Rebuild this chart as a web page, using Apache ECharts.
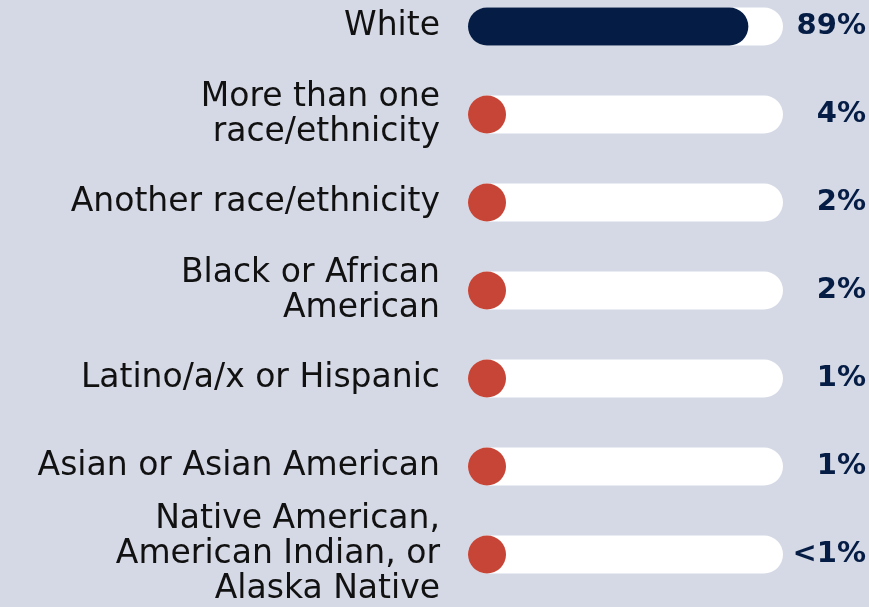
<!DOCTYPE html>
<html>
<head>
<meta charset="utf-8">
<style>
  html, body { margin: 0; padding: 0; background: #d5d9e6; }
  #chart { width: 869px; height: 607px; }
</style>
<script src="https://cdn.jsdelivr.net/npm/echarts@6/dist/echarts.min.js"></script>
</head>
<body>
<div id="chart"></div>
<script>
// 类别、数值、右侧百分比标签
var categories = [
  'White',
  'More than one\nrace/ethnicity',
  'Another race/ethnicity',
  'Black or African\nAmerican',
  'Latino/a/x or Hispanic',
  'Asian or Asian American',
  'Native American,\nAmerican Indian, or\nAlaska Native'
];
var values = [89, 4, 2, 2, 1, 1, 0.5];
var valueLabels = ['89%', '4%', '2%', '2%', '1%', '1%', '<1%'];

var navy = '#051d45';
var red = '#c64536';

var chart = echarts.init(document.getElementById('chart'));
chart.setOption({
  backgroundColor: '#d5d9e6',
  animation: false,
  grid: {
    left: 468,
    right: 86,
    top: -17.5,
    bottom: 8.5,
    containLabel: false,
    outerBoundsMode: 'none'
  },
  xAxis: {
    type: 'value',
    min: 0,
    max: 100,
    show: false
  },
  yAxis: [
    {
      type: 'category',
      inverse: true,
      data: categories,
      axisLine: { show: false },
      axisTick: { show: false },
      axisLabel: {
        margin: 28,
        align: 'right',
        color: '#111',
        fontFamily: 'DejaVu Sans',
        fontSize: 33,
        lineHeight: 35
      }
    },
    {
      type: 'category',
      inverse: true,
      position: 'right',
      data: valueLabels,
      axisLine: { show: false },
      axisTick: { show: false },
      axisLabel: {
        margin: 83,
        align: 'right',
        color: navy,
        fontFamily: 'DejaVu Sans',
        fontWeight: 'bold',
        fontSize: 29
      }
    }
  ],
  series: [
    {
      type: 'bar',
      data: values,
      barWidth: 38,
      barMinHeight: 38,
      showBackground: true,
      backgroundStyle: {
        color: '#ffffff',
        borderRadius: 19
      },
      itemStyle: {
        borderRadius: 19,
        color: function (p) {
          // 最大值用深蓝色，其余为红色圆点
          return p.dataIndex === 0 ? navy : red;
        }
      }
    }
  ]
});
</script>
</body>
</html>
